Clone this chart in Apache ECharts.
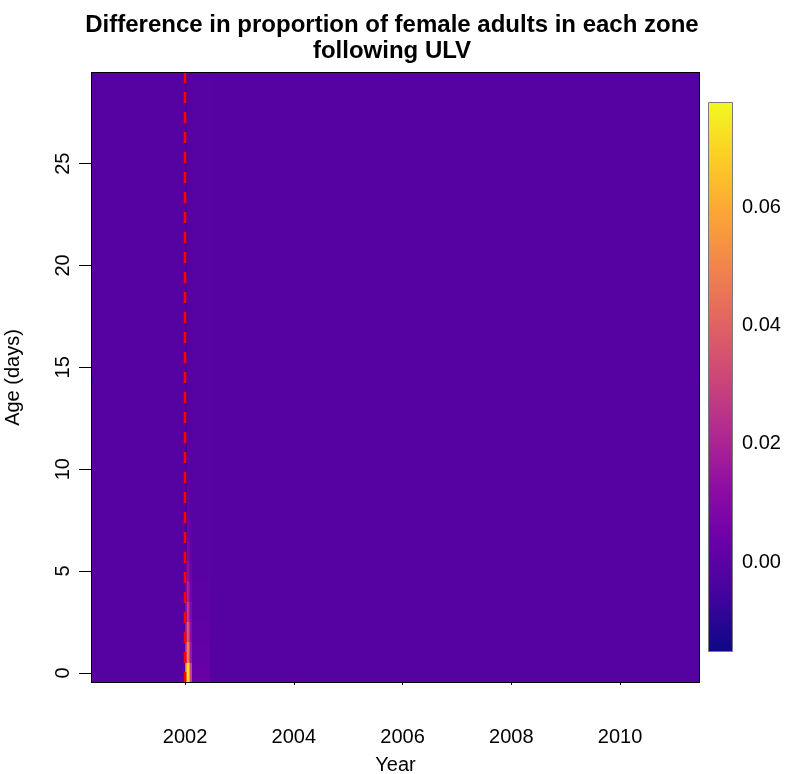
<!DOCTYPE html>
<html><head><meta charset="utf-8">
<script src="https://cdn.jsdelivr.net/npm/echarts@6/dist/echarts.min.js"></script>
<style>html,body{margin:0;padding:0;background:#fff}#c{width:794px;height:774px}</style>
</head><body><div id="c"></div>
<script>
// ---- data ----
const titleLines = ['Difference in proportion of female adults in each zone', 'following ULV'];
const xName = 'Year';
const yName = 'Age (days)';
const xRange = [2000.27, 2011.47];
const yRange = [-0.5, 29.5];
const xTicks = [2002, 2004, 2006, 2008, 2010];
const yTicks = [0, 5, 10, 15, 20, 25];
const cbRange = [-0.0150, 0.0778];
const cbTicks = [0.00, 0.02, 0.04, 0.06];
const ulvYear = 2002.0;
const ages = [0,1,2,3,4,5,6,7,8,9,10,11,12,13,14,15,16,17,18,19,20,21,22,23,24,25,26,27,28,29];
// time columns (decimal year start / end)
const colStart = [2000.27, 2001.995, 2002.015, 2002.035, 2002.055, 2002.075, 2002.095, 2002.12, 2002.45];
const colEnd   = [2001.995, 2002.015, 2002.035, 2002.055, 2002.075, 2002.095, 2002.12, 2002.45, 2011.47];
// values per column, ages 0..29
const colA = [-0.001,-0.001,-0.001,-0.001,-0.001,-0.001,-0.001,-0.001,-0.001,-0.001,-0.001,-0.001,-0.001,-0.001,-0.001,-0.001,-0.001,-0.001,-0.001,-0.001,-0.001,-0.001,-0.001,-0.001,-0.001,-0.001,-0.001,-0.001,-0.001,-0.001];
const colB = [0.040,0.022,0.015,0.010,0.006,0.003,-0.004,-0.005,-0.005,-0.005,-0.005,-0.005,-0.005,-0.005,-0.005,-0.005,-0.005,-0.005,-0.005,-0.005,-0.005,-0.005,-0.005,-0.005,-0.005,-0.005,-0.005,-0.005,-0.005,-0.005];
const colC = [0.058,0.032,0.022,0.015,0.010,0.006,-0.004,-0.006,-0.006,-0.006,-0.006,-0.006,-0.006,-0.006,-0.006,-0.006,-0.006,-0.006,-0.006,-0.006,-0.006,-0.006,-0.006,-0.006,-0.006,-0.006,-0.006,-0.006,-0.006,-0.006];
const colD = [0.074,0.050,0.038,0.028,0.020,0.013,0.008,0.004,0.002,0.001,0.000,0.000,-0.001,-0.001,-0.001,-0.001,-0.001,-0.001,-0.001,-0.001,-0.001,-0.001,-0.001,-0.001,-0.001,-0.001,-0.001,-0.001,-0.001,-0.001];
const colE = [0.072,0.046,0.035,0.026,0.018,0.012,0.007,0.004,0.002,0.001,0.000,0.000,-0.001,-0.001,-0.001,-0.001,-0.001,-0.001,-0.001,-0.001,-0.001,-0.001,-0.001,-0.001,-0.001,-0.001,-0.001,-0.001,-0.001,-0.001];
const colF = [0.055,0.032,0.024,0.017,0.012,0.008,0.005,0.003,0.001,0.000,0.000,-0.001,-0.001,-0.001,-0.001,-0.001,-0.001,-0.001,-0.001,-0.001,-0.001,-0.001,-0.001,-0.001,-0.001,-0.001,-0.001,-0.001,-0.001,-0.001];
const colG = [0.030,0.016,0.012,0.009,0.006,0.004,0.002,0.001,0.000,-0.001,-0.001,-0.001,-0.001,-0.001,-0.001,-0.001,-0.001,-0.001,-0.001,-0.001,-0.001,-0.001,-0.001,-0.001,-0.001,-0.001,-0.001,-0.001,-0.001,-0.001];
const colH = [0.003,0.002,0.001,0.0005,0.000,-0.0005,-0.0008,-0.0008,-0.0008,-0.0008,-0.0008,-0.0008,-0.0008,-0.0008,-0.0008,-0.0008,-0.0008,-0.0008,-0.0008,-0.0008,-0.0008,-0.0008,-0.0008,-0.0008,-0.0008,-0.0008,-0.0008,-0.0008,-0.0008,-0.0008];
const colI = [-0.001,-0.001,-0.001,-0.001,-0.001,-0.001,-0.001,-0.001,-0.001,-0.001,-0.001,-0.001,-0.001,-0.001,-0.001,-0.001,-0.001,-0.001,-0.001,-0.001,-0.001,-0.001,-0.001,-0.001,-0.001,-0.001,-0.001,-0.001,-0.001,-0.001];
const columns = [colA, colB, colC, colD, colE, colF, colG, colH, colI];
const plasma = ['#0d0887','#41049d','#6a00a8','#8f0da4','#b12a90','#cc4778','#e16462','#f2844b','#fca636','#fcce25','#f0f921'];

// ---- build ----
const cells = [];
columns.forEach((vals, ci) => {
  ages.forEach((a, ai) => {
    cells.push([colStart[ci], colEnd[ci], a - 0.5, a + 0.5, vals[ai]]);
  });
});
const FONT = 'Liberation Sans';
const chart = echarts.init(document.getElementById('c'), null, {renderer: 'canvas'});
const gradStops = plasma.map((c, i) => ({offset: i / (plasma.length - 1), color: c}));

function snapRect(api) {
  const p0 = api.coord([api.value(0), api.value(3)]);
  const p1 = api.coord([api.value(1), api.value(2)]);
  const x0 = Math.round(p0[0]), y0 = Math.round(p0[1]);
  const x1 = Math.round(p1[0]), y1 = Math.round(p1[1]);
  return {x: x0, y: y0, width: x1 - x0, height: y1 - y0};
}

chart.setOption({
  animation: false,
  backgroundColor: '#ffffff',
  title: {
    text: titleLines.join('\n'),
    left: 387, top: 7, textAlign: 'center',
    textStyle: {fontFamily: FONT, fontSize: 24, fontWeight: 'bold', color: '#000', lineHeight: 26}
  },
  grid: [
    {left: 91, top: 72, width: 609, height: 611, show: false, containLabel: false, outerBoundsMode: 'none'},
    {left: 708, top: 102, width: 24, height: 549, show: false, containLabel: false, outerBoundsMode: 'none'}
  ],
  xAxis: [
    {type: 'value', gridIndex: 0, min: xRange[0], max: xRange[1],
     name: xName, nameLocation: 'middle', nameGap: 72,
     nameTextStyle: {fontFamily: FONT, fontSize: 20, color: '#000'},
     axisLine: {show: false}, splitLine: {show: false},
     axisTick: {show: true, inside: false, length: 12, customValues: xTicks, lineStyle: {color: '#000', width: 1}},
     axisLabel: {show: true, margin: 44, customValues: xTicks, fontFamily: FONT, fontSize: 20, color: '#000', formatter: v => String(v)}},
    {type: 'value', gridIndex: 1, min: 0, max: 1, show: false}
  ],
  yAxis: [
    {type: 'value', gridIndex: 0, min: yRange[0], max: yRange[1],
     name: yName, nameLocation: 'middle', nameGap: 68, nameRotate: 90,
     nameTextStyle: {fontFamily: FONT, fontSize: 20, color: '#000'},
     axisLine: {show: false}, splitLine: {show: false},
     axisTick: {show: true, inside: false, length: 12, customValues: yTicks, lineStyle: {color: '#000', width: 1}},
     axisLabel: {show: true, margin: 18, rotate: 90, customValues: yTicks, fontFamily: FONT, fontSize: 20, color: '#000', formatter: v => String(v)}},
    {type: 'value', gridIndex: 1, min: cbRange[0], max: cbRange[1], position: 'right',
     axisLine: {show: false}, splitLine: {show: false},
     axisTick: {show: true, inside: false, length: 7, customValues: cbTicks, lineStyle: {color: '#000', width: 1}},
     axisLabel: {show: true, margin: 10, customValues: cbTicks, fontFamily: FONT, fontSize: 20, color: '#000', formatter: v => v.toFixed(2)}}
  ],
  visualMap: {
    type: 'continuous', show: false, seriesIndex: 0, dimension: 4,
    min: cbRange[0], max: cbRange[1], inRange: {color: plasma}
  },
  series: [
    {type: 'custom', xAxisIndex: 0, yAxisIndex: 0, data: cells, clip: true,
     encode: {x: [0, 1], y: [2, 3]},
     renderItem: (params, api) => ({type: 'rect', shape: snapRect(api), style: {fill: api.visual('color')}})},
    {type: 'custom', xAxisIndex: 0, yAxisIndex: 0, z: 5, data: [[ulvYear, yRange[1], yRange[0]]],
     renderItem: (params, api) => {
       const a = api.coord([api.value(0), api.value(1)]);
       const b = api.coord([api.value(0), api.value(2)]);
       return {type: 'line', shape: {x1: a[0], y1: a[1], x2: b[0], y2: b[1]},
               style: {stroke: '#ff0000', lineWidth: 2.5, lineDash: [11, 9]}};
     }},
    {type: 'custom', xAxisIndex: 0, yAxisIndex: 0, z: 10, data: [[xRange[0], xRange[1], yRange[0], yRange[1]]],
     renderItem: (params, api) => {
       const r = snapRect(api);
       return {type: 'rect', shape: {x: r.x + 0.5, y: r.y + 0.5, width: r.width - 1, height: r.height - 1},
               style: {fill: 'none', stroke: '#000', lineWidth: 1}};
     }},
    {type: 'custom', xAxisIndex: 1, yAxisIndex: 1, data: [[0, 1, cbRange[0], cbRange[1]]],
     renderItem: (params, api) => {
       const r = snapRect(api);
       return {type: 'rect', shape: {x: r.x + 0.5, y: r.y + 0.5, width: r.width, height: r.height},
               style: {fill: new echarts.graphic.LinearGradient(0, 1, 0, 0, gradStops), stroke: '#7a7a7a', lineWidth: 1}};
     }}
  ]
});
</script></body></html>
